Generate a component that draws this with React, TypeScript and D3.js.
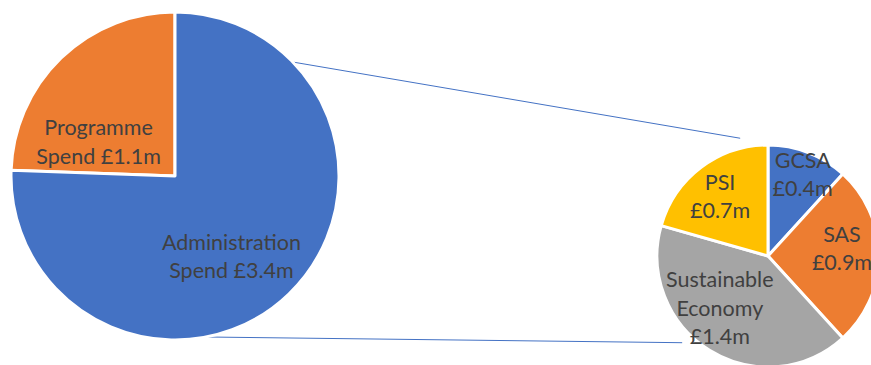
import React from "react";
import * as d3 from "d3";

const mainCategories = ["Programme Spend", "Administration Spend"];
const mainValues = [1.1, 3.4];
const mainLabels = [["Programme", "Spend £1.1m"], ["Administration", "Spend £3.4m"]];

const subCategories = ["GCSA", "SAS", "Sustainable Economy", "PSI"];
const subValues = [0.4, 0.9, 1.4, 0.7];
const subLabels = [["GCSA", "£0.4m"], ["SAS", "£0.9m"], ["Sustainable", "Economy", "£1.4m"], ["PSI", "£0.7m"]];

const W = 871, H = 365;
const mainColors = ["#ED7D31", "#4472C4"];
const subColors = ["#4472C4", "#ED7D31", "#A5A5A5", "#FFC000"];
// label placement: [angle in degrees, fraction of radius]
const mainLabelPos = [[-66, 0.51], [145, 0.6]];
const subLabelPos = [[23, 0.8], [84, 0.67], [222.7, 0.64], [-38.7, 0.69]];

const FONT = "Lato, 'Open Sans', sans-serif";
const FS = 21.5;
const LH = 28.5;

function polar(cx: number, cy: number, deg: number, r: number) {
  const a = (deg * Math.PI) / 180;
  return [cx + r * Math.sin(a), cy - r * Math.cos(a)];
}

export default function App() {
  const mainTotal = d3.sum(mainValues);
  const mc = { x: 175, y: 176, r: 164 };
  const sc = { x: 768, y: 256, r: 111 };

  const mainPie = d3
    .pie<number>()
    .sort(null)
    .startAngle(-(mainValues[0] / mainTotal) * 2 * Math.PI)
    .endAngle(2 * Math.PI - (mainValues[0] / mainTotal) * 2 * Math.PI)(mainValues);
  const subPie = d3.pie<number>().sort(null)(subValues);

  const mainArc = d3.arc<d3.PieArcDatum<number>>().innerRadius(0).outerRadius(mc.r);
  const subArc = d3.arc<d3.PieArcDatum<number>>().innerRadius(0).outerRadius(sc.r);

  // connector lines
  const a1 = polar(mc.x, mc.y, 46, mc.r);
  const b1 = polar(sc.x, sc.y, -13.3, sc.r + 10);
  const a2 = polar(mc.x, mc.y, 169, mc.r);
  const b2 = polar(sc.x, sc.y, 224.7, sc.r + 11);

  const renderLabel = (lines: string[], pos: number[], cx: number, cy: number, r: number, key: string) => {
    const [x, y] = polar(cx, cy, pos[0], r * pos[1]);
    const y0 = y - ((lines.length - 1) * LH) / 2;
    return (
      <text key={key} x={x} fontFamily={FONT} fontSize={FS} fill="#404040" textAnchor="middle">
        {lines.map((l, i) => (
          <tspan key={i} x={x} y={y0 + i * LH} dy="0.35em">
            {l}
          </tspan>
        ))}
      </text>
    );
  };

  return (
    <svg width={W} height={H} style={{ position: "absolute", left: 0, top: 0 }}>
      <rect width={W} height={H} fill="#fff" />
      <line x1={a1[0]} y1={a1[1]} x2={b1[0]} y2={b1[1]} stroke="#4472C4" strokeWidth={1} />
      <line x1={a2[0]} y1={a2[1]} x2={b2[0]} y2={b2[1]} stroke="#4472C4" strokeWidth={1} />
      <g transform={`translate(${mc.x},${mc.y})`}>
        {mainPie.map((d, i) => (
          <path key={mainCategories[i]} d={mainArc(d) || ""} fill={mainColors[i]} stroke="#fff" strokeWidth={3} strokeLinejoin="round" />
        ))}
      </g>
      <g transform={`translate(${sc.x},${sc.y})`}>
        {subPie.map((d, i) => (
          <path key={subCategories[i]} d={subArc(d) || ""} fill={subColors[i]} stroke="#fff" strokeWidth={3} strokeLinejoin="round" />
        ))}
      </g>
      {mainLabels.map((l, i) => renderLabel(l, mainLabelPos[i], mc.x, mc.y, mc.r, "m" + i))}
      {subLabels.map((l, i) => renderLabel(l, subLabelPos[i], sc.x, sc.y, sc.r, "s" + i))}
    </svg>
  );
}
